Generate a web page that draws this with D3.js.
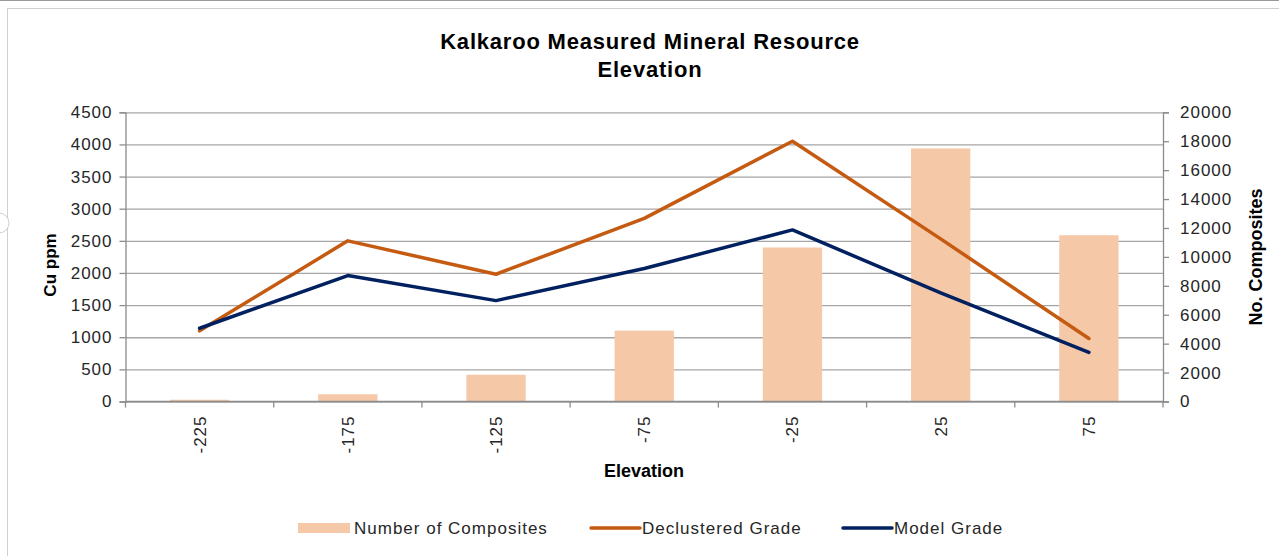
<!DOCTYPE html>
<html>
<head>
<meta charset="utf-8">
<script src="https://cdn.jsdelivr.net/npm/d3@7"></script>
<style>
	body { margin: 0; background: #fff; }
	svg { display: block; font-family: 'Liberation Sans', Arial, sans-serif; }
	.tick text { font-size: 17px; letter-spacing: 1px; fill: #262626; }
	.grid line { stroke: #a6a6a6; stroke-width: 1.3; }
	.grid path { display: none; }
</style>
</head>
<body>
<svg id="chart" width="1279" height="556"></svg>
<script>
const categories = [-225, -175, -125, -75, -25, 25, 75]
const composites = [120, 500, 1850, 4900, 10650, 17500, 11500]
const declustered = [1100, 2500, 1980, 2850, 4050, 2530, 980]
const model = [1140, 1960, 1570, 2070, 2670, 1690, 765]
const leftTicks = [0, 500, 1000, 1500, 2000, 2500, 3000, 3500, 4000, 4500]
const rightTicks = [0, 2000, 4000, 6000, 8000, 10000, 12000, 14000, 16000, 18000, 20000]

const svg = d3.select('#chart')
const plotLeft = 125.5
const plotRight = 1163
const plotTop = 112.3
const plotBottom = 401.5

// frame round the chart area
svg.append('rect')
	.attr('x', 7.5).attr('y', 8.5)
	.attr('width', 1300).attr('height', 600)
	.attr('fill', 'none').attr('stroke', '#d0d0d0')
svg.append('line')
	.attr('x1', 0).attr('x2', 1279).attr('y1', 0.5).attr('y2', 0.5)
	.attr('stroke', '#9a9a9a')
svg.append('circle')
	.attr('cx', -1).attr('cy', 223).attr('r', 10)
	.attr('fill', '#fff').attr('stroke', '#cfcfcf')

const xScale = d3.scaleBand().range([plotLeft, plotRight]).domain(categories).padding(0)
const yLeft = d3.scaleLinear().range([plotBottom, plotTop]).domain([0, 4500])
const yRight = d3.scaleLinear().range([plotBottom, plotTop]).domain([0, 20000])
const barW = xScale.bandwidth() / 2.5
const cx = (c) => xScale(c) + xScale.bandwidth() / 2

// gridlines
svg.append('g')
	.attr('class', 'grid')
	.attr('transform', `translate(${plotLeft}, 0)`)
	.call(d3.axisLeft(yLeft).tickValues(leftTicks).tickSize(-(plotRight - plotLeft)).tickFormat(''))

// bars
svg.append('g').selectAll('rect')
	.data(composites)
	.enter().append('rect')
	.attr('x', (d, i) => cx(categories[i]) - barW / 2)
	.attr('y', (d) => yRight(d))
	.attr('width', barW)
	.attr('height', (d) => plotBottom - yRight(d))
	.attr('fill', '#F5C8A7')

// axes
const axisColor = '#8c8c8c'
const leftAxis = svg.append('g')
	.attr('transform', `translate(${plotLeft}, 0)`)
	.call(d3.axisLeft(yLeft).tickValues(leftTicks).tickFormat(d3.format('d')).tickSize(6).tickPadding(7))
const rightAxis = svg.append('g')
	.attr('transform', `translate(${plotRight}, 0)`)
	.call(d3.axisRight(yRight).tickValues(rightTicks).tickFormat(d3.format('d')).tickSize(6).tickPadding(11))
const xAxis = svg.append('g')
	.attr('transform', `translate(0, ${plotBottom})`)
	.call(d3.axisBottom(xScale).tickSize(0).tickPadding(0))
xAxis.selectAll('.tick text')
	.attr('transform', 'rotate(-90)')
	.attr('x', -14)
	.attr('y', 0)
	.attr('dy', '0.35em')
	.style('text-anchor', 'end')
xAxis.select('.domain').remove()
svg.append('line')
	.attr('x1', plotLeft).attr('x2', plotRight)
	.attr('y1', plotBottom).attr('y2', plotBottom)
	.attr('stroke', axisColor).attr('stroke-width', 1.3)
svg.append('g').selectAll('line')
	.data(categories.concat(['end']))
	.enter().append('line')
	.attr('x1', (c) => (c === 'end' ? plotRight : xScale(c)))
	.attr('x2', (c) => (c === 'end' ? plotRight : xScale(c)))
	.attr('y1', plotBottom).attr('y2', plotBottom + 6)
	.attr('stroke', axisColor).attr('stroke-width', 1.3)
;[leftAxis, rightAxis].forEach((a) => {
	a.select('.domain').attr('stroke', axisColor).attr('stroke-width', 1.3)
	a.selectAll('.tick line').attr('stroke', axisColor).attr('stroke-width', 1.3)
})

// lines
const line = d3.line().x((d, i) => cx(categories[i])).y((d) => yLeft(d))
const series = [
	{ values: declustered, color: '#C55A11' },
	{ values: model, color: '#002060' },
]
series.forEach((s) => {
	svg.append('path')
		.datum(s.values)
		.attr('d', line)
		.attr('fill', 'none')
		.attr('stroke', s.color)
		.attr('stroke-width', 3.5)
		.attr('stroke-linejoin', 'round')
		.attr('stroke-linecap', 'round')
})

// titles
const title = svg.append('text')
	.attr('text-anchor', 'middle')
	.attr('font-weight', 'bold')
	.attr('font-size', 22)
	.attr('letter-spacing', 0.8)
	.attr('fill', '#000')
title.append('tspan').attr('x', 650).attr('y', 49).text('Kalkaroo Measured Mineral Resource')
title.append('tspan').attr('x', 650).attr('y', 77).text('Elevation')

svg.append('text')
	.attr('x', 644).attr('y', 477)
	.attr('text-anchor', 'middle')
	.attr('font-weight', 'bold').attr('font-size', 18)
	.text('Elevation')
svg.append('text')
	.attr('transform', 'translate(56, 265) rotate(-90)')
	.attr('text-anchor', 'middle')
	.attr('font-weight', 'bold').attr('font-size', 17)
	.text('Cu ppm')
svg.append('text')
	.attr('transform', 'translate(1262, 257) rotate(-90)')
	.attr('text-anchor', 'middle')
	.attr('font-weight', 'bold').attr('font-size', 18)
	.text('No. Composites')

// legend
const legend = [
	{ label: 'Number of Composites', type: 'bar', color: '#F5C8A7', x: 298 },
	{ label: 'Declustered Grade', type: 'line', color: '#C55A11', x: 590 },
	{ label: 'Model Grade', type: 'line', color: '#002060', x: 842 },
]
const lg = svg.append('g').selectAll('g').data(legend).enter().append('g')
	.attr('transform', (d) => `translate(${d.x}, 528)`)
lg.filter((d) => d.type === 'bar').append('rect')
	.attr('x', 0).attr('y', -5).attr('width', 52).attr('height', 10)
	.attr('fill', (d) => d.color)
lg.filter((d) => d.type === 'line').append('line')
	.attr('x1', 1).attr('x2', 50).attr('y1', 0).attr('y2', 0)
	.attr('stroke', (d) => d.color).attr('stroke-width', 3.5)
	.attr('stroke-linecap', 'round')
lg.append('text')
	.attr('x', (d) => (d.type === 'bar' ? 56 : 52))
	.attr('y', 0).attr('dy', '0.35em')
	.attr('font-size', 17).attr('letter-spacing', 1)
	.attr('fill', '#262626')
	.text((d) => d.label)
</script>
</body>
</html>
